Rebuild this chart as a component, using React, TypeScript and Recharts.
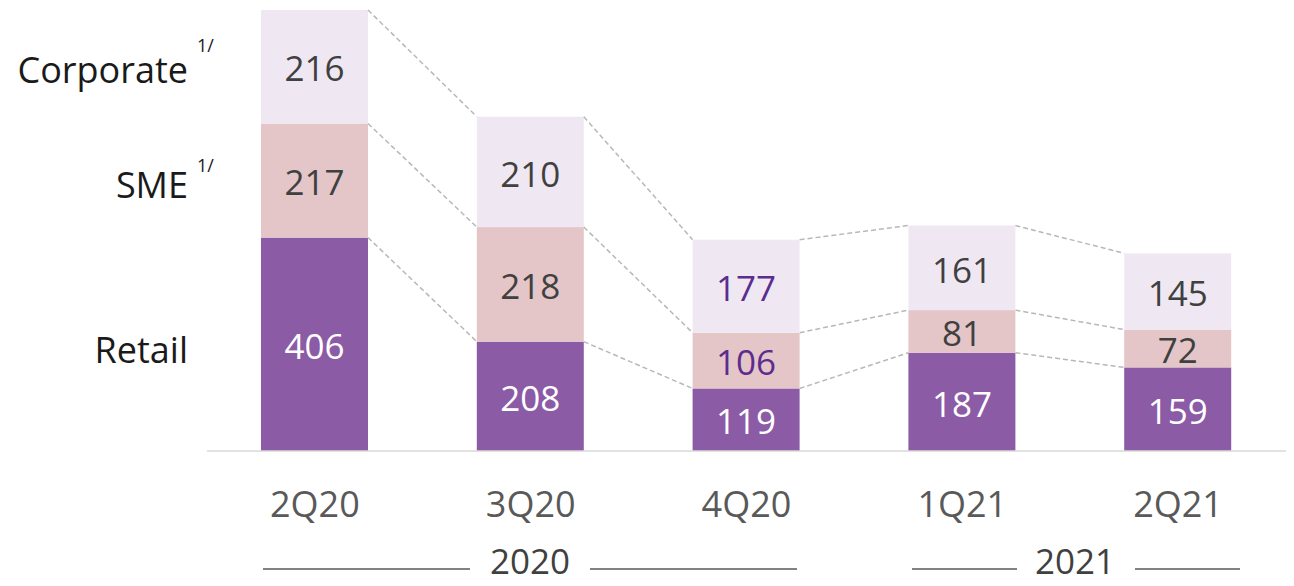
import { BarChart, Bar, XAxis, YAxis, LabelList } from 'recharts'

const quarters = ['2Q20', '3Q20', '4Q20', '1Q21', '2Q21']
const retail = [406, 208, 119, 187, 159]
const sme = [217, 218, 106, 81, 72]
const corporate = [216, 210, 177, 161, 145]
const seriesKeys = ['retail', 'sme', 'corporate']

const W = 1294
const H = 586
const M = { top: 10, right: 8, bottom: 105, left: 207 }
const STEP = (W - M.left - M.right) / quarters.length
const FONT = '"Open Sans", sans-serif'

const COLORS: Record<string, string> = { retail: '#8c5ba6', sme: '#e4c5c8', corporate: '#efe8f3' }

const data = quarters.map((q, i) => ({ q, retail: retail[i], sme: sme[i], corporate: corporate[i] }))

function makeShape(key: string) {
  const level = seriesKeys.indexOf(key)
  return (props: any) => {
    const { x, y, width, height, index } = props
    const row = data[index]
    const px = height / (row as any)[key]
    const below = seriesKeys.slice(0, level).reduce((s, k) => s + (row as any)[k], 0)
    const y0 = y + height + below * px
    const next = data[index + 1]
    let line = null
    if (next) {
      const nextTop = seriesKeys.slice(0, level + 1).reduce((s, k) => s + (next as any)[k], 0)
      line = (
        <line x1={x + width} y1={y} x2={x + STEP} y2={y0 - nextTop * px}
          stroke="#b8b8b8" strokeWidth={1.5} strokeDasharray="5 3" />
      )
    }
    return (
      <g>
        <rect x={x} y={y} width={width} height={height} fill={COLORS[key]} />
        {line}
      </g>
    )
  }
}

function makeLabel(key: string) {
  return (props: any) => {
    const { x, y, width, height, value, index } = props
    let fill = key === 'retail' ? '#ffffff' : '#404040'
    if (key !== 'retail' && index === 2) fill = '#5b2d8e'
    return (
      <text x={x + width / 2} y={y + height / 2} dy="0.42em" textAnchor="middle"
        fill={fill} fontSize={35} fontFamily={FONT}>{value}</text>
    )
  }
}

export default function App() {
  return (
    <div style={{ position: 'absolute', left: 0, top: 0, width: W, height: H, background: '#fff' }}>
      <BarChart width={W} height={H} data={data} margin={M} barSize={107}>
        <XAxis dataKey="q" height={30} axisLine={{ stroke: '#d9d9d9', strokeWidth: 1.5 }} tickLine={false}
          tickSize={0} tickMargin={40}
          tick={{ fill: '#595959', fontSize: 36, fontFamily: FONT }} />
        <YAxis hide domain={[0, 839]} />
        {seriesKeys.map((k) => (
          <Bar key={k} dataKey={k} stackId="a" isAnimationActive={false} shape={makeShape(k)}>
            <LabelList dataKey={k} content={makeLabel(k)} />
          </Bar>
        ))}
      </BarChart>
      <svg width={W} height={H} style={{ position: 'absolute', left: 0, top: 0, pointerEvents: 'none' }}
        fontFamily={FONT}>
        <text x={188} y={83} textAnchor="end" fontSize={36} fill="#1a1a1a">Corporate</text>
        <text x={197} y={52} fontSize={18} fill="#1a1a1a">1/</text>
        <text x={188} y={198} textAnchor="end" fontSize={36} fill="#1a1a1a">SME</text>
        <text x={197} y={172} fontSize={18} fill="#1a1a1a">1/</text>
        <text x={188} y={363} textAnchor="end" fontSize={36} fill="#1a1a1a">Retail</text>
        <line x1={263} y1={569} x2={470} y2={569} stroke="#595959" strokeWidth={1.5} />
        <text x={530} y={574} textAnchor="middle" fontSize={35} fill="#404040">2020</text>
        <line x1={590} y1={569} x2={797} y2={569} stroke="#595959" strokeWidth={1.5} />
        <line x1={912} y1={569} x2={1017} y2={569} stroke="#595959" strokeWidth={1.5} />
        <text x={1075} y={574} textAnchor="middle" fontSize={35} fill="#404040">2021</text>
        <line x1={1135} y1={569} x2={1240} y2={569} stroke="#595959" strokeWidth={1.5} />
      </svg>
    </div>
  )
}
